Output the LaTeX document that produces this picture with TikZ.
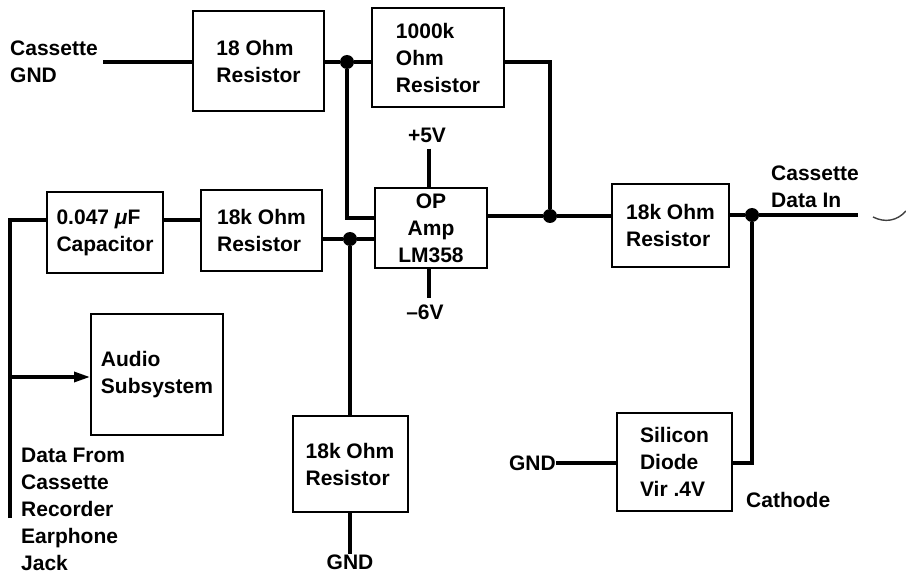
\documentclass[tikz,border=0pt]{standalone}
\usepackage{fontspec}
\setmainfont{Liberation Sans}
\usetikzlibrary{arrows.meta}
\newcommand\mylbl{\fontsize{21}{27}\selectfont\bfseries}
\tikzset{
  box/.style={draw, line width=2pt, inner sep=0pt, align=left, font=\mylbl},
  wire/.style={line width=3.2pt},
  jdot/.style={circle, fill, inner sep=0pt, minimum size=14pt},
  lab/.style={inner sep=0pt, align=left, font=\mylbl},
}
\begin{document}
\begin{tikzpicture}[x=1pt,y=-1pt]
\useasboundingbox (0,0) rectangle (906,575);
% boxes
\node[box, minimum width=131pt, minimum height=100pt] (r18) at (258.5,61) {18 Ohm\\Resistor};
\node[box, minimum width=132pt, minimum height=99pt] (r1000k) at (438,57.5) {1000k\\Ohm\\Resistor};
\node[box, align=center, minimum width=112pt, minimum height=80pt] (opamp) at (431,228) {OP\\Amp\\LM358};
\node[box, minimum width=116pt, minimum height=81pt] (cap) at (105,232.5) {0.047 \textit{μ}F\\Capacitor};
\node[box, minimum width=121pt, minimum height=81pt] (r18ka) at (261.5,230.5) {18k Ohm\\Resistor};
\node[box, minimum width=117pt, minimum height=83pt] (r18kb) at (670.5,225.5) {18k Ohm\\Resistor};
\node[box, minimum width=115pt, minimum height=96pt] (r18kc) at (350,464) {18k Ohm\\Resistor};
\node[box, minimum width=132pt, minimum height=121pt] (audio) at (157,374.5) {Audio\\Subsystem};
\node[box, minimum width=115pt, minimum height=98pt] (diode) at (674.5,462) {Silicon\\Diode\\Vir .4V};
% labels
\node[lab, anchor=west] (cgnd) at (10,62) {Cassette\\GND};
\node[lab] (p5) at (427,135) {+5V};
\node[lab] (m6) at (425,312) {–6V};
\node[lab, anchor=west] (cdi) at (771,187) {Cassette\\Data In};
\node[lab, anchor=west] (cath) at (746,500) {Cathode};
\node[lab, anchor=east] (gnd3) at (556,463) {GND};
\node[lab] (gnd2) at (350,562) {GND};
\node[lab, anchor=west] (dfc) at (21,509) {Data From\\Cassette\\Recorder\\Earphone\\Jack};
% junctions
\node[jdot] (d1) at (347,62) {};
\node[jdot] (d2) at (350,239) {};
\node[jdot] (d3) at (550,216) {};
\node[jdot] (d4) at (752,215) {};
\coordinate (cgE) at (103,62);
\coordinate (ltop) at (10,220);
\coordinate (lbot) at (10,518);
\coordinate (larr) at (10,377);
\coordinate (cdiE) at (858,215);
\coordinate (dcorner) at (752,463);
\coordinate (fbk) at (347,218);
% wires
\draw[wire] (cgE) -- (r18.west |- cgE);
\draw[wire] (r18.east |- d1) -- (d1) -- (r1000k.west |- d1);
\draw[wire] (d1) -- (fbk) -- (opamp.west |- fbk);
\draw[wire] (r18ka.east |- d2) -- (d2) -- (opamp.west |- d2);
\draw[wire] (d2) -- (r18kc.north);
\draw[wire] (r18kc.south) -- (gnd2.north);
\draw[wire] (p5.south) ++(2,6) -- (opamp.north -| 429,0);
\draw[wire] (opamp.south -| 429,0) -- (429,298);
\draw[wire] (r1000k.east |- d1) -| (d3);
\draw[wire] (opamp.east |- d3) -- (d3) -- (r18kb.west |- d3);
\draw[wire] (r18kb.east |- d4) -- (d4) -- (cdiE);
\draw[wire] (d4) -- (dcorner) -- (diode.east |- dcorner);
\draw[wire] (gnd3.east) -- (diode.west |- gnd3.east);
\draw[wire] (lbot) -- (ltop) -- (cap.west |- ltop);
\draw[wire] (cap.east |- ltop) -- (r18ka.west |- ltop);
\draw[wire, -{Triangle[length=16pt,width=10pt]}] (larr) -- (audio.west |- larr);
\draw[line width=1.4pt, black!75] (873,217) .. controls (885,223) and (897,221) .. (906,211);
\end{tikzpicture}
\end{document}
